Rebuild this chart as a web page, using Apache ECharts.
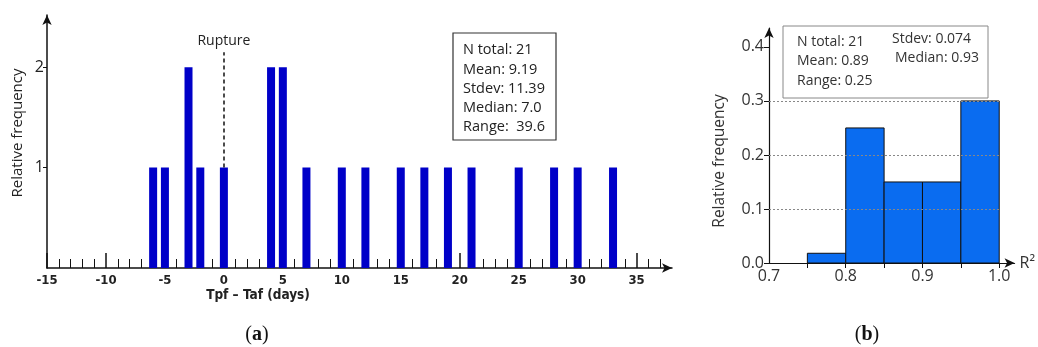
<!DOCTYPE html>
<html><head><meta charset="utf-8">
<script src="https://cdn.jsdelivr.net/npm/echarts@6/dist/echarts.min.js"></script>
<style>html,body{margin:0;padding:0;background:#fff}#c{width:1038px;height:347px}</style>
</head><body><div id="c"></div>
<script>
// ---- panel (a) data ----
const daysValues = [-6, -5, -3, -2, 0, 4, 5, 7, 10, 12, 15, 17, 19, 21, 25, 28, 30, 33];
const daysCounts = [1, 1, 2, 1, 1, 2, 2, 1, 1, 1, 1, 1, 1, 1, 1, 1, 1, 1];
const daysMajorTicks = [-15, -10, -5, 0, 5, 10, 15, 20, 25, 30, 35];
const daysMinorTicks = [-14, -13, -12, -11, -9, -8, -7, -6, -4, -3, -2, -1, 1, 2, 3, 4, 6, 7, 8, 9, 11, 12, 13, 14, 16, 17, 18, 19, 21, 22, 23, 24, 26, 27, 28, 29, 31, 32, 33, 34, 36, 37];
const countTicks = [1, 2];
const statsA = ['N total: 21', 'Mean: 9.19', 'Stdev: 11.39', 'Median: 7.0', 'Range:  39.6'];

// ---- panel (b) data ----
const r2BinStart = [0.75, 0.80, 0.85, 0.90, 0.95];
const r2BinEnd = [0.80, 0.85, 0.90, 0.95, 1.00];
const r2Freq = [0.018, 0.25, 0.15, 0.15, 0.30];
const r2Labels = [0.7, 0.8, 0.9, 1.0];
const r2Ticks = [0.75, 0.8, 0.85, 0.9, 0.95, 1.0];
const freqTicks = [0, 0.1, 0.2, 0.3, 0.4];
const freqGrid = [0.1, 0.2, 0.3];
const statsBLeft = ['N total: 21', 'Mean: 0.89', 'Range: 0.25'];
const statsBRight = ['Stdev: 0.074', 'Median: 0.93'];

const condFamily = "'DejaVu Sans Condensed','DejaVu Sans',sans-serif";
const uiFont = "'Open Sans', sans-serif";

const chart = echarts.init(document.getElementById('c'), null, { renderer: 'canvas' });

const option = {
  animation: false,
  backgroundColor: '#fff',
  grid: [
    { left: 47, right: 366, top: 15, bottom: 79 },
    { left: 769, right: 23, top: 28, bottom: 84 }
  ],
  xAxis: [
    {
      gridIndex: 0, type: 'value', min: -15, max: 38, position: 'bottom',
      axisLine: { show: true, onZero: false, lineStyle: { color: '#111', width: 1.5 }, symbol: ['none', 'arrow'], symbolSize: [7, 10] },
      axisTick: { show: true, inside: true, length: 15, customValues: daysMajorTicks, lineStyle: { color: '#111', width: 1.5 } },
      axisLabel: { show: true, customValues: daysMajorTicks, fontFamily: condFamily, fontWeight: 'bold condensed', fontSize: 13, color: '#222', margin: 6 },
      splitLine: { show: false }
    },
    {
      gridIndex: 0, type: 'value', min: -15, max: 38, position: 'bottom',
      axisLine: { show: false },
      axisTick: { show: true, inside: true, length: 9, customValues: daysMinorTicks, lineStyle: { color: '#111', width: 1 } },
      axisLabel: { show: false },
      splitLine: { show: false }
    },
    {
      gridIndex: 1, type: 'value', min: 0.7, max: 1.02, position: 'bottom',
      name: 'R\u00b2', nameLocation: 'end', nameGap: 5,
      nameTextStyle: { fontFamily: uiFont, fontSize: 16, color: '#333' },
      axisLine: { show: true, onZero: false, lineStyle: { color: '#111', width: 1.2 }, symbol: ['none', 'arrow'], symbolSize: [7, 10] },
      axisTick: { show: true, length: 5, customValues: r2Ticks, lineStyle: { color: '#111' } },
      axisLabel: { show: true, customValues: r2Labels, formatter: v => v.toFixed(1), fontFamily: uiFont, fontSize: 16, color: '#333', margin: 5 },
      splitLine: { show: false }
    }
  ],
  yAxis: [
    {
      gridIndex: 0, type: 'value', min: 0, max: 2.52,
      axisLine: { show: true, onZero: false, lineStyle: { color: '#111', width: 1.5 }, symbol: ['none', 'arrow'], symbolSize: [7, 10] },
      axisTick: { show: true, length: 4, customValues: countTicks, lineStyle: { color: '#111' } },
      axisLabel: { show: true, customValues: countTicks, fontFamily: uiFont, fontSize: 16, color: '#222', margin: 3 },
      splitLine: { show: false }
    },
    {
      gridIndex: 1, type: 'value', min: 0, max: 0.435,
      axisLine: { show: true, onZero: false, lineStyle: { color: '#111', width: 1.2 }, symbol: ['none', 'arrow'], symbolSize: [7, 10] },
      axisTick: { show: true, length: 5, customValues: freqTicks, lineStyle: { color: '#111' } },
      axisLabel: { show: true, customValues: freqTicks, formatter: v => v.toFixed(1), fontFamily: uiFont, fontSize: 16, color: '#333', margin: 5 },
      splitLine: { show: false }
    }
  ],
  series: [
    {
      type: 'bar', xAxisIndex: 0, yAxisIndex: 0, barWidth: 8, z: 2,
      itemStyle: { color: '#0000c8' },
      data: daysValues.map((x, i) => [x, daysCounts[i]]),
      markLine: {
        silent: true, symbol: 'none',
        lineStyle: { type: [4, 3], color: '#111', width: 1.5 },
        label: { show: true, position: 'end', formatter: 'Rupture', fontFamily: uiFont, fontSize: 14, color: '#222', distance: 4 },
        data: [[{ coord: [0, 1] }, { coord: [0, 2.15] }]]
      }
    },
    {
      type: 'line', xAxisIndex: 2, yAxisIndex: 1, data: [], z: 1,
      markLine: {
        silent: true, symbol: 'none',
        lineStyle: { type: [2, 2], color: '#888', width: 1 },
        label: { show: false },
        data: freqGrid.map(v => [{ coord: [0.7, v] }, { coord: [1.0, v] }])
      }
    },
    {
      type: 'custom', xAxisIndex: 2, yAxisIndex: 1, z: 3,
      data: r2BinStart.map((s, i) => [s, r2BinEnd[i], r2Freq[i]]),
      encode: { x: [0, 1], y: 2 },
      renderItem: (params, api) => {
        const p0 = api.coord([api.value(0), api.value(2)]);
        const p1 = api.coord([api.value(1), 0]);
        return {
          type: 'rect',
          shape: { x: p0[0], y: p0[1], width: p1[0] - p0[0], height: p1[1] - p0[1] },
          style: { fill: '#0a6cf0', stroke: '#111', lineWidth: 1 }
        };
      }
    }
  ],
  graphic: [
    { type: 'text', x: 18, y: 133, rotation: Math.PI / 2, z: 10,
      style: { text: 'Relative frequency', align: 'center', verticalAlign: 'middle', font: '15px ' + uiFont, fill: '#222' } },
    { type: 'text', x: 720, y: 161, rotation: Math.PI / 2, z: 10,
      style: { text: 'Relative frequency', align: 'center', verticalAlign: 'middle', font: '15.5px ' + uiFont, fill: '#333' } },
    { type: 'text', x: 258, y: 295, z: 10,
      style: { text: 'Tpf \u2013 Taf (days)', align: 'center', verticalAlign: 'middle', font: 'bold condensed 13.5px ' + condFamily, fill: '#222' } },
    { type: 'rect', z: 10, shape: { x: 453, y: 33, width: 103, height: 107 },
      style: { fill: '#fff', stroke: '#333', lineWidth: 1.2 } },
    { type: 'text', x: 463, y: 40.5, z: 11,
      style: { text: statsA.join('\n'), font: '14.5px ' + uiFont, lineHeight: 19.3, fill: '#222', verticalAlign: 'top' } },
    { type: 'rect', z: 10, shape: { x: 783, y: 26, width: 205, height: 72 },
      style: { fill: '#fff', stroke: '#888', lineWidth: 1 } },
    { type: 'text', x: 797, y: 32, z: 11,
      style: { text: statsBLeft.join('\n'), font: '14px ' + uiFont, lineHeight: 19.5, fill: '#333', verticalAlign: 'top' } },
    { type: 'text', x: 892, y: 32, z: 11,
      style: { text: statsBRight[0], font: '14px ' + uiFont, fill: '#333', verticalAlign: 'top' } },
    { type: 'text', x: 895, y: 51.5, z: 11,
      style: { text: statsBRight[1], font: '14px ' + uiFont, fill: '#333', verticalAlign: 'top' } },
    { type: 'text', x: 257, y: 335, z: 10,
      style: { text: '{p|(}{b|a}{p|)}', align: 'center', verticalAlign: 'middle',
        rich: { p: { fontFamily: 'Liberation Serif', fontSize: 20, fill: '#111' }, b: { fontFamily: 'Liberation Serif', fontSize: 20, fontWeight: 'bold', fill: '#111' } } } },
    { type: 'text', x: 867, y: 335, z: 10,
      style: { text: '{p|(}{b|b}{p|)}', align: 'center', verticalAlign: 'middle',
        rich: { p: { fontFamily: 'Liberation Serif', fontSize: 20, fill: '#111' }, b: { fontFamily: 'Liberation Serif', fontSize: 20, fontWeight: 'bold', fill: '#111' } } } }
  ]
};
chart.setOption(option);
</script>
</body></html>
